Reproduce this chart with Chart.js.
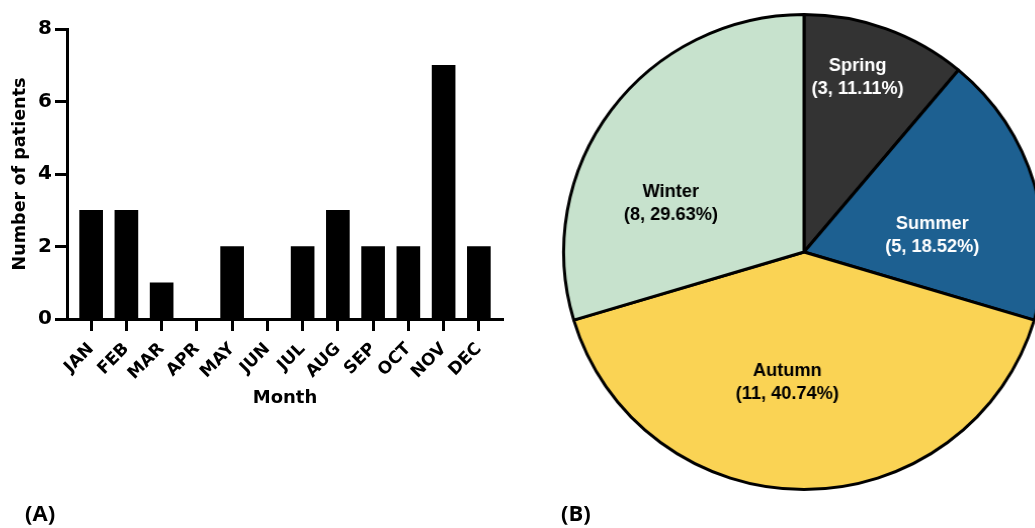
<!DOCTYPE html>
<html>
<head>
<meta charset="utf-8">
<script src="https://cdn.jsdelivr.net/npm/chart.js@4"></script>
<style>
  html, body { margin: 0; padding: 0; background: #fff; }
  body { width: 1035px; height: 528px; overflow: hidden; position: relative; }
  #barBox { position: absolute; left: 0; top: 0; width: 540px; height: 528px; }
  #pieBox { position: absolute; left: 554px; top: 2px; width: 500px; height: 500px;
            transform: scaleX(1.012); transform-origin: 250px 250px; }
  .panel { position: absolute; top: 497px; font-family: "Open Sans", sans-serif; font-weight: 700;
           font-size: 22px; line-height: 30px; color: #000; }
</style>
</head>
<body>
<div id="barBox"><canvas id="bar" width="540" height="528"></canvas></div>
<div id="pieBox"><canvas id="pie" width="500" height="500"></canvas></div>
<div class="panel" style="left:25px">(A)</div>
<div class="panel" style="left:561px">(B)</div>

<script>
// Patients by month of onset
const months = ['JAN', 'FEB', 'MAR', 'APR', 'MAY', 'JUN', 'JUL', 'AUG', 'SEP', 'OCT', 'NOV', 'DEC'];
const patientsPerMonth = [3, 3, 1, 0, 2, 0, 2, 3, 2, 2, 7, 2];
const yTickValues = [0, 2, 4, 6, 8];

// Patients by season
const seasons = ['Spring', 'Summer', 'Autumn', 'Winter'];
const patientsPerSeason = [3, 5, 11, 8];
const seasonColors = ['#333333', '#1d6091', '#fad354', '#c7e2cd'];

const AXIS_FONT = 'DejaVu Sans';

// Panel A: monthly bar chart
new Chart(document.getElementById('bar'), {
  type: 'bar',
  data: {
    datasets: [{
      data: patientsPerMonth.map((v, i) => ({ x: i, y: v })),
      backgroundColor: '#000',
      borderWidth: 0,
      barThickness: 23
    }]
  },
  options: {
    responsive: false,
    animation: false,
    layout: { padding: { top: 29, right: 37, bottom: 119, left: 0 } },
    plugins: { legend: { display: false }, tooltip: { enabled: false } },
    scales: {
      x: {
        type: 'linear',
        offset: false,
        min: -0.685,
        max: 11.685,
        afterBuildTicks: s => { s.ticks = months.map((m, i) => ({ value: i })); },
        afterFit: s => { s.height = 90; },
        grid: { offset: false, drawOnChartArea: false, drawTicks: true, tickLength: 12, tickWidth: 3, tickColor: '#000' },
        border: { display: true, width: 3, color: '#000' },
        ticks: {
          autoSkip: false, minRotation: 45, maxRotation: 45, padding: 8, color: '#000',
          font: { family: AXIS_FONT, weight: 'bold', size: 17 },
          callback: v => months[v]
        },
        title: {
          display: true, text: 'Month', color: '#000',
          font: { family: AXIS_FONT, weight: 'bold', size: 18 },
          padding: { top: 0, bottom: 0 }
        }
      },
      y: {
        min: 0,
        max: 8,
        afterBuildTicks: s => { s.ticks = yTickValues.map(v => ({ value: v })); },
        afterFit: s => { s.width = 67; },
        grid: { drawOnChartArea: false, drawTicks: true, tickLength: 12, tickWidth: 3, tickColor: '#000' },
        border: { display: true, width: 3, color: '#000' },
        ticks: { padding: 3, color: '#000', font: { family: AXIS_FONT, weight: 'bold', size: 20 } },
        title: {
          display: true, text: 'Number of patients', color: '#000',
          font: { family: AXIS_FONT, weight: 'bold', size: 17.6 },
          padding: { top: 10, bottom: 0 }
        }
      }
    }
  }
});

// Where each slice's two-line label sits: angle turn from the slice's
// middle (degrees) and distance as a share of the radius.
const labelPlacement = [
  { turn: -3.1, reach: 0.768, color: '#fff' },
  { turn: 9.4, reach: 0.538, color: '#fff' },
  { turn: 7.2, reach: 0.556, color: '#000' },
  { turn: -16.3, reach: 0.591, color: '#000' }
];

const sliceLabels = {
  id: 'sliceLabels',
  afterDatasetsDraw(chart) {
    const ctx = chart.ctx;
    const meta = chart.getDatasetMeta(0);
    const values = chart.data.datasets[0].data;
    const total = values.reduce((a, b) => a + b, 0);
    ctx.save();
    ctx.font = 'bold 18px "Liberation Sans", Arial, sans-serif';
    ctx.textAlign = 'center';
    ctx.textBaseline = 'middle';
    meta.data.forEach((arc, i) => {
      const p = labelPlacement[i];
      const { x, y, startAngle, endAngle, outerRadius } =
        arc.getProps(['x', 'y', 'startAngle', 'endAngle', 'outerRadius'], true);
      const a = (startAngle + endAngle) / 2 + p.turn * Math.PI / 180;
      const r = outerRadius * p.reach;
      const cx = x + Math.cos(a) * r;
      const cy = y + Math.sin(a) * r;
      const pct = (values[i] / total * 100).toFixed(2);
      ctx.fillStyle = p.color;
      ctx.fillText(chart.data.labels[i], cx, cy - 11.5);
      ctx.fillText('(' + values[i] + ', ' + pct + '%)', cx, cy + 11.5);
    });
    ctx.restore();
  }
};

// Panel B: seasonal pie chart
new Chart(document.getElementById('pie'), {
  type: 'pie',
  data: {
    labels: seasons,
    datasets: [{
      data: patientsPerSeason,
      backgroundColor: seasonColors,
      borderColor: '#000',
      borderWidth: 3,
      borderJoinStyle: 'round'
    }]
  },
  options: {
    responsive: false,
    animation: false,
    radius: 237.5,
    layout: { padding: 0 },
    plugins: { legend: { display: false }, tooltip: { enabled: false } }
  },
  plugins: [sliceLabels]
});
</script>
</body>
</html>
